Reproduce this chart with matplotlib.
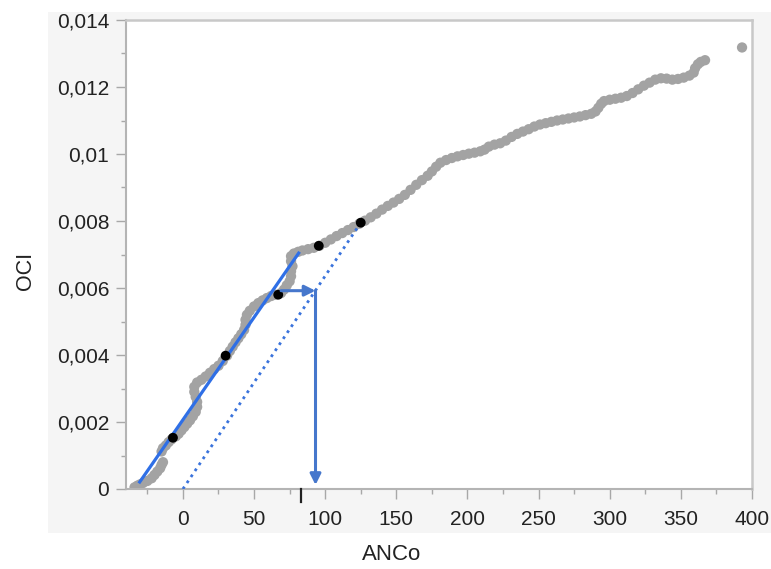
import matplotlib
matplotlib.use("Agg")
import matplotlib.pyplot as plt
from matplotlib.patches import Rectangle
from matplotlib.ticker import MultipleLocator, FuncFormatter

plt.rcParams['font.family'] = ['Liberation Sans', 'DejaVu Sans']

anco = [-34, -32, -30, -28, -25, -22, -20, -18, -16, -15, -14,
        -15, -14, -12, -10, -8, -5, -3, -1, 1, 3, 5, 7, 9, 10, 10, 9, 8, 8,
        10, 13, 16, 19, 22, 25, 28, 31, 33, 35, 37, 39, 41, 43, 44, 44, 45,
        47, 50, 53, 56, 59, 62, 65, 69, 71, 73, 75, 76, 76, 77, 76, 76, 78, 81,
        84, 88, 92, 96, 100, 104, 108, 112, 116, 120, 124, 128, 132, 136,
        140, 144, 148, 152, 156, 160, 164, 168, 172, 175, 178, 181, 185,
        189, 193, 197, 201, 205, 209, 212, 215, 219, 223, 227, 231, 235,
        239, 243, 247, 251, 255, 259, 263, 267, 271, 275, 279, 283, 287,
        290, 292, 294, 296, 300, 304, 308, 312, 316, 320, 324, 328, 332,
        336, 340, 344, 348, 352, 356, 359, 360, 362, 364, 367, 393]
oci = [0.00005, 0.0001, 0.00014, 0.00018, 0.00024, 0.00032, 0.00042, 0.00052,
       0.00062, 0.00072, 0.0008,
       0.00112, 0.00122, 0.0013, 0.0014, 0.00148, 0.00157, 0.00165, 0.00175,
       0.00185, 0.00195, 0.00205, 0.00217, 0.0023, 0.00245, 0.0026, 0.00275,
       0.0029, 0.00305,
       0.00318, 0.00326, 0.00336, 0.00347, 0.00358, 0.00368, 0.00382, 0.00398,
       0.00412, 0.00425, 0.00438, 0.0045, 0.00462, 0.00475, 0.0049, 0.00505,
       0.0052, 0.00532, 0.00545, 0.00555, 0.00563, 0.0057, 0.00576, 0.0058,
       0.00585, 0.00595, 0.00608, 0.0062, 0.00635, 0.0065, 0.00665, 0.0068,
       0.00695, 0.00703, 0.00708,
       0.00712, 0.00716, 0.0072, 0.00726, 0.00735, 0.00745, 0.00755, 0.00764,
       0.00773, 0.00782, 0.00792, 0.00801, 0.00811, 0.00822, 0.00834, 0.00845,
       0.00855, 0.00866, 0.00878, 0.00893, 0.00908, 0.00922, 0.00935, 0.00948,
       0.00962, 0.00974, 0.00982, 0.00988, 0.00993, 0.00997, 0.01001, 0.01004,
       0.01008, 0.01013, 0.01022, 0.01028, 0.01032, 0.0104, 0.01051, 0.0106,
       0.01067, 0.01074, 0.01082, 0.01088, 0.01092, 0.01096, 0.011, 0.01103,
       0.01106, 0.01109, 0.01112, 0.01116, 0.0112, 0.01127, 0.01138, 0.0115,
       0.01158, 0.01162, 0.01165, 0.01168, 0.01173, 0.01182, 0.01193, 0.01204,
       0.01213, 0.01222, 0.01226, 0.01225, 0.01222, 0.01224, 0.01228, 0.01234,
       0.01243, 0.01256, 0.01268, 0.01275, 0.0128, 0.01318]

# highlighted (black) points
key_anco = [-7, 30, 67, 95.5, 125]
key_oci = [0.00153, 0.00398, 0.0058, 0.00726, 0.00795]

# regression line and shifted line
fit_anco = [-31, 82]
fit_oci = [0.00017, 0.00708]
shift_anco = [0, 125]
shift_oci = [0, 0.00795]

# read-off arrows
read_start = 69
read_anco = 93.2
read_oci = 0.00592
read_bottom = 0.00012

# marked value on x axis
ref_anco = 82.8

fig = plt.figure(figsize=(7.71, 5.69), dpi=100)
fig.add_artist(Rectangle((48 / 771, 1 - 533 / 569), 723 / 771, 521 / 569,
                         transform=fig.transFigure, facecolor='#f5f5f5',
                         edgecolor='none', zorder=-10))
ax = fig.add_axes([126 / 771, 1 - 489 / 569, 626 / 771, 469 / 569])
ax.set_facecolor('white')

ax.scatter(anco, oci, s=55, color='#a3a3a3', edgecolors='none', zorder=2)
ax.plot(fit_anco, fit_oci, color='#2f6fe6', lw=2.3, solid_capstyle='butt', zorder=3)
ax.plot(shift_anco, shift_oci, color='#3a73dc', lw=2.0, linestyle=(0, (1, 1.6)), zorder=3)
ax.scatter(key_anco, key_oci, s=50, color='black', edgecolors='none', zorder=4)

arrow_kw = dict(arrowstyle='-|>', color='#4677cc', lw=2.2, mutation_scale=16,
                shrinkA=0, shrinkB=0)
ax.annotate('', xy=(read_anco, read_oci), xytext=(read_start, read_oci),
            arrowprops=arrow_kw, zorder=5)
ax.annotate('', xy=(read_anco, read_bottom), xytext=(read_anco, read_oci),
            arrowprops=arrow_kw, zorder=5)

ax.plot([ref_anco, ref_anco], [0.0, -0.027], color='#222222', lw=1.6,
        transform=ax.get_xaxis_transform(), clip_on=False, zorder=6)

ax.set_xlim(-40, 400)
ax.set_ylim(0, 0.014)
ax.xaxis.set_major_locator(MultipleLocator(50))
ax.xaxis.set_minor_locator(MultipleLocator(25))
ax.yaxis.set_major_locator(MultipleLocator(0.002))
ax.yaxis.set_minor_locator(MultipleLocator(0.001))
ax.yaxis.set_major_formatter(FuncFormatter(lambda v, p: f"{v:g}".replace('.', ',')))

ax.tick_params(which='major', length=7, width=1, color='#a8a8a8',
               labelsize=15, labelcolor='#222222')
ax.tick_params(which='minor', length=3.5, width=1, color='#a8a8a8')
ax.tick_params(axis='y', which='major', pad=5)
ax.tick_params(axis='x', which='major', pad=8)

for side in ['left', 'bottom']:
    ax.spines[side].set_color('#b4b4b4')
    ax.spines[side].set_linewidth(1.5)
for side in ['top', 'right']:
    ax.spines[side].set_color('#c8c8c8')
    ax.spines[side].set_linewidth(1.8)

ax.set_xlabel('ANCo', fontsize=16, color='#222222')
ax.set_ylabel('OCI', fontsize=15.5, color='#222222')
ax.xaxis.set_label_coords(0.425, -0.117)
ax.yaxis.set_label_coords(-0.143, 0.464)

fig.savefig('out.png', dpi=100)
